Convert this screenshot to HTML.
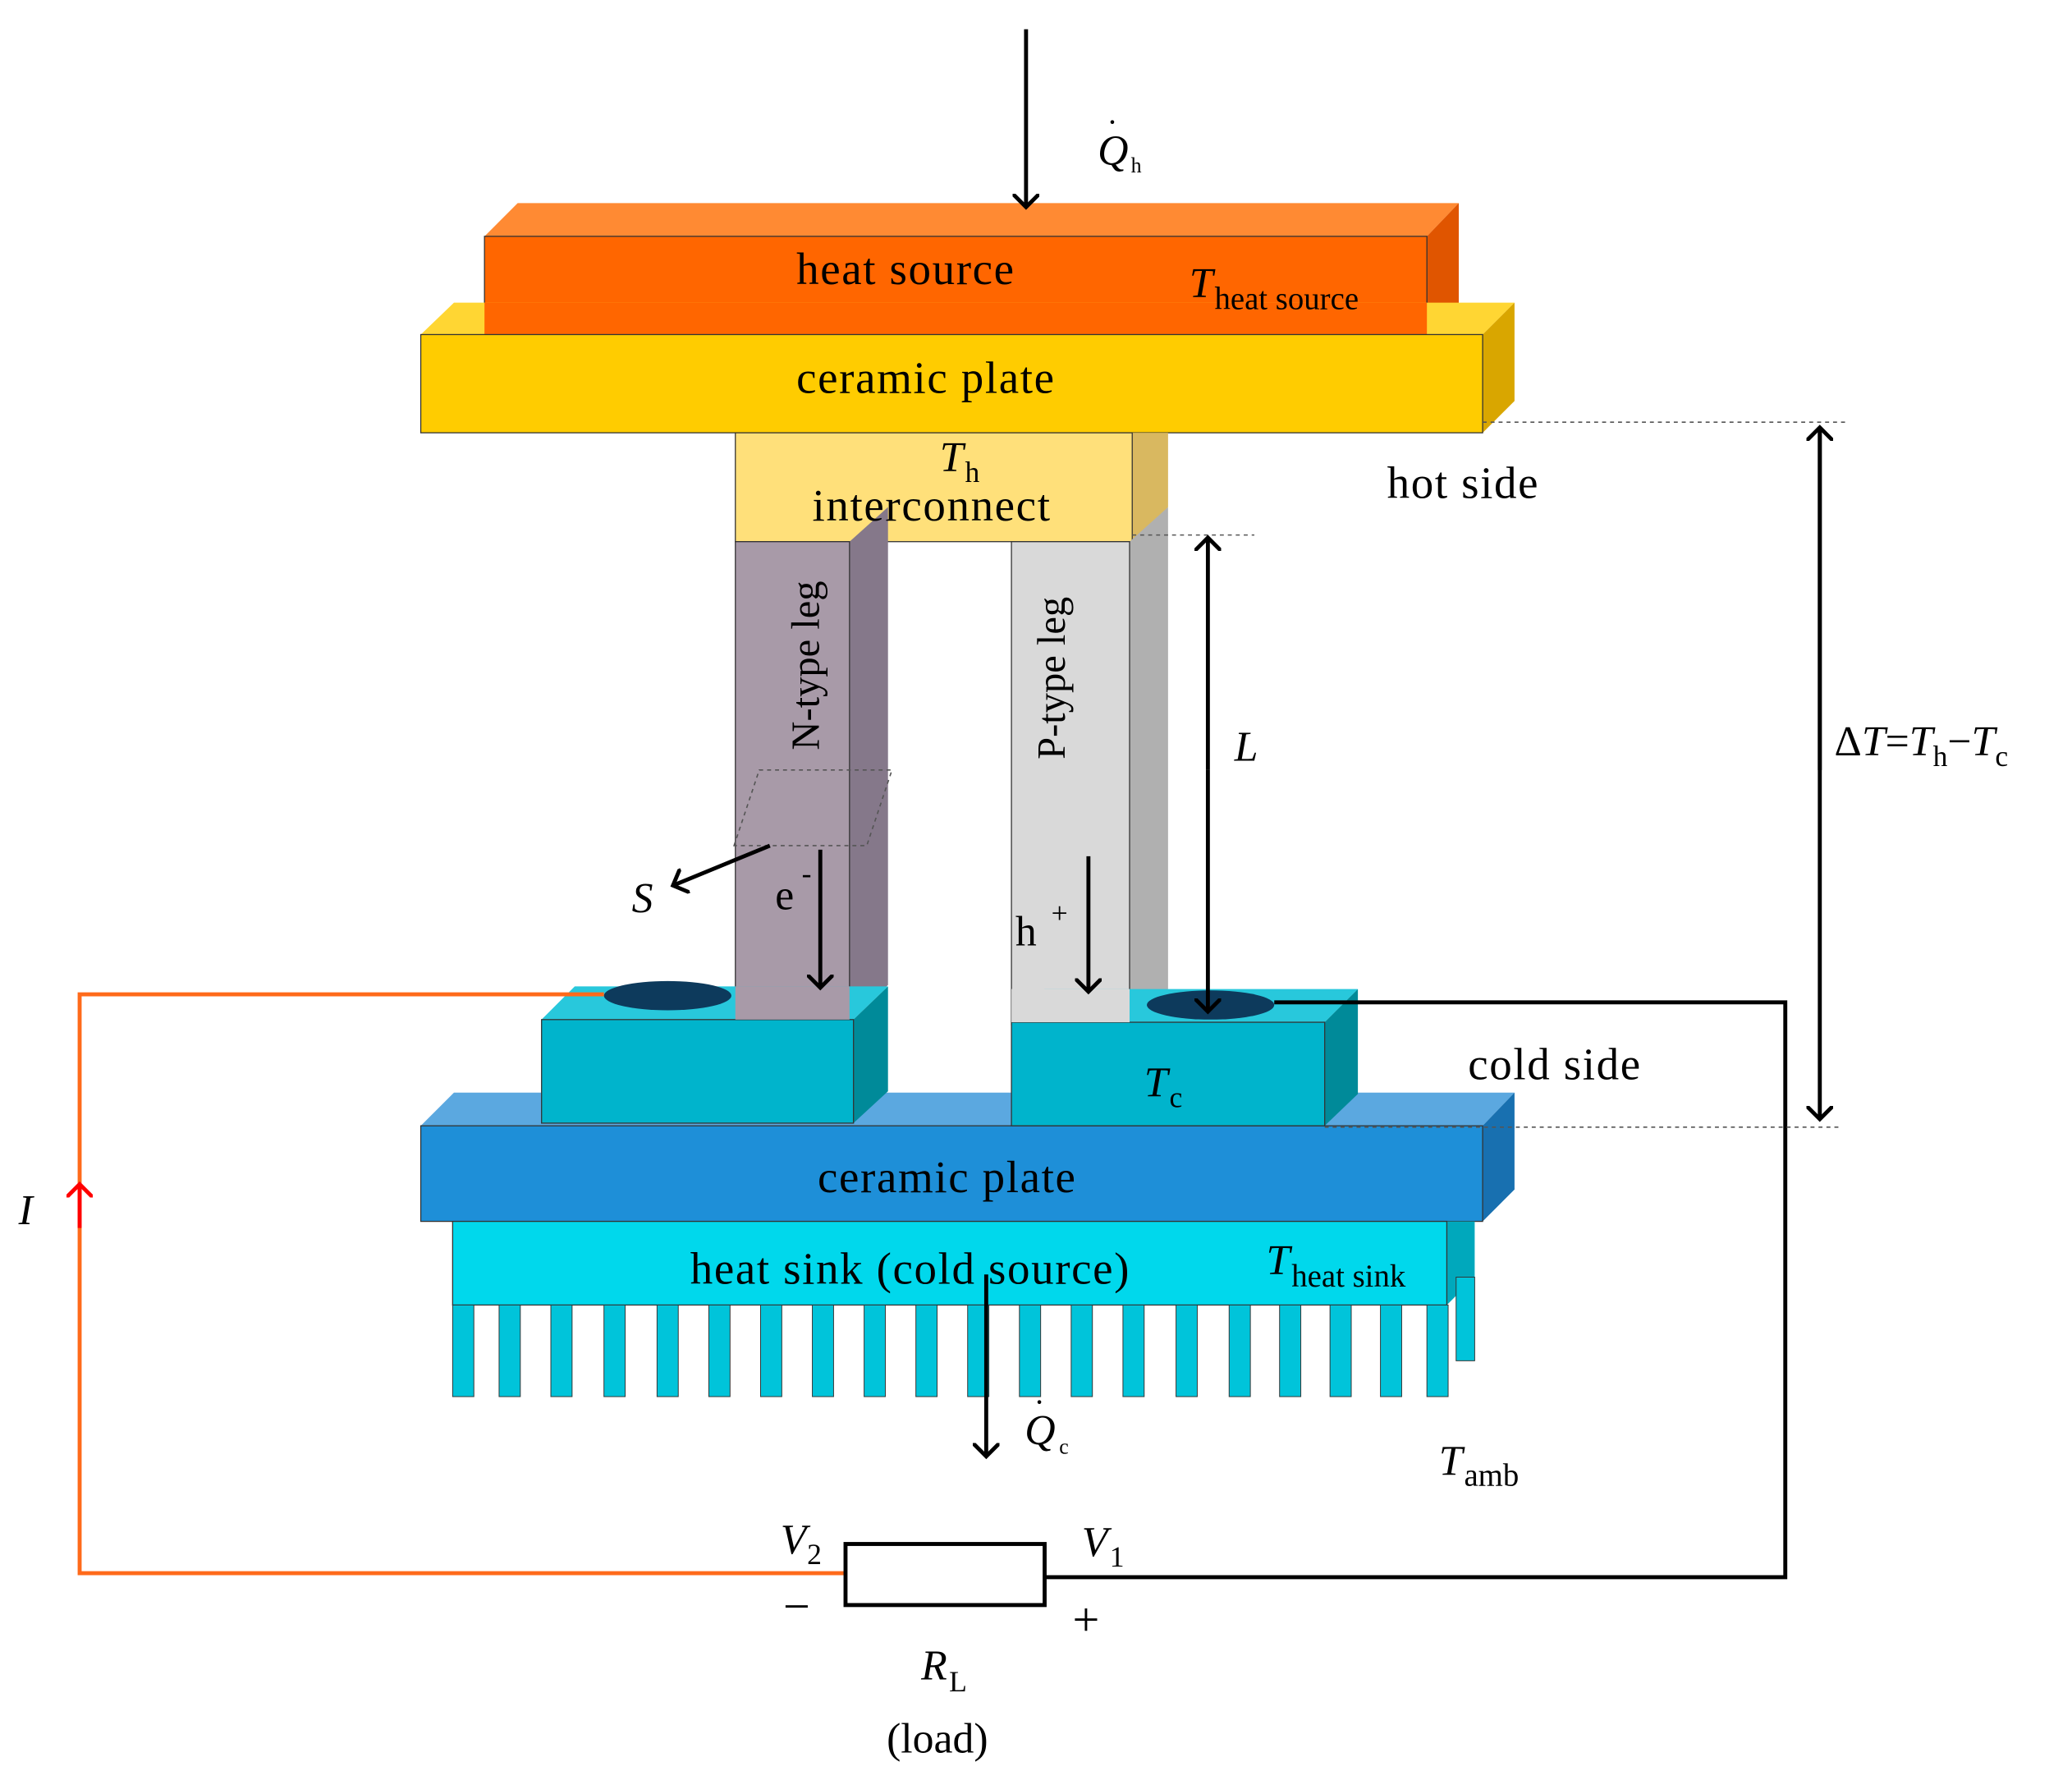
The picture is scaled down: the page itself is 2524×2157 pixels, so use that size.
<!DOCTYPE html>
<html><head><meta charset="utf-8"><style>html,body{margin:0;padding:0;background:#fff}svg{display:block}</style></head>
<body>
<svg width="2524" height="2157" viewBox="0 0 1561 1334" preserveAspectRatio="none" xmlns="http://www.w3.org/2000/svg" font-family="Liberation Serif, serif">
<defs>
<marker id="ah" markerWidth="20" markerHeight="20" refX="10" refY="10" orient="auto" markerUnits="userSpaceOnUse"><path d="M0,0 L10,10 L0,20" fill="none" stroke="#000" stroke-width="3"/></marker>
<marker id="ahr" markerWidth="20" markerHeight="20" refX="10" refY="10" orient="auto" markerUnits="userSpaceOnUse"><path d="M0,0 L10,10 L0,20" fill="none" stroke="#f00" stroke-width="3"/></marker>
</defs>
<!-- heat source -->
<polygon points="365,178 390,153 1099,153 1075,178" fill="#FF8A33"/>
<polygon points="1075,178 1099,153 1099,230 1075,252" fill="#E05500"/>
<rect x="365" y="178" width="710" height="74" fill="#FF6600" stroke="#333" stroke-width="0.8"/>
<!-- top ceramic -->
<polygon points="317,252 342,228 1141,228 1117,252" fill="#FFD633"/>
<rect x="365" y="228" width="710" height="24" fill="#FF6600"/>
<polygon points="1117,252 1141,228 1141,302 1117,326" fill="#D9A600"/>
<rect x="317" y="252" width="800" height="74" fill="#FFCC00" stroke="#333" stroke-width="0.8"/>
<!-- interconnect -->
<polygon points="853,326 880,326 880,382 853,408" fill="#D9B860"/>
<rect x="554" y="326" width="299" height="82" fill="#FFE07A" stroke="#333" stroke-width="0.8"/>
<!-- legs -->
<polygon points="640,408 669,382 669,742 640,768" fill="#85788A"/>
<rect x="554" y="408" width="86" height="360" fill="#A89AA8" stroke="#333" stroke-width="0.8"/>
<polygon points="851,408 880,382 880,745 851,772" fill="#B0B0B0"/>
<rect x="762" y="408" width="89" height="364" fill="#D9D9D9" stroke="#333" stroke-width="0.8"/>
<!-- bottom ceramic -->
<polygon points="317,848 342,823 1141,823 1117,848" fill="#5BA8E0"/>
<polygon points="1117,848 1141,823 1141,896 1117,920" fill="#1870B0"/>
<rect x="317" y="848" width="800" height="72" fill="#1E8FD8" stroke="#333" stroke-width="0.8"/>
<!-- pads -->
<polygon points="408,768 433,743 669,743 643,768" fill="#28C8DC"/>
<polygon points="643,768 669,743 669,822 643,846" fill="#008A99"/>
<rect x="408" y="768" width="235" height="78" fill="#00B4CC" stroke="#333" stroke-width="0.8"/>
<polygon points="762,770 787,745 1023,745 998,770" fill="#28C8DC"/>
<polygon points="998,770 1023,745 1023,824 998,848" fill="#008A99"/>
<rect x="762" y="770" width="236" height="78" fill="#00B4CC" stroke="#333" stroke-width="0.8"/>
<rect x="554" y="743" width="86" height="25" fill="#A89AA8"/>
<rect x="762" y="745" width="89" height="25" fill="#D9D9D9"/>
<ellipse cx="503" cy="750" rx="48" ry="11" fill="#0D3A5C"/>
<ellipse cx="912" cy="757" rx="48" ry="11" fill="#0D3A5C"/>
<!-- heat sink -->
<polygon points="1090,920 1111,920 1111,962 1090,983" fill="#00A8BC"/>
<rect x="341" y="920" width="749" height="63" fill="#00D8EC" stroke="#333" stroke-width="0.8"/>
<rect x="1097" y="962" width="14" height="63" fill="#00C4DA" stroke="#333" stroke-width="0.6"/>
<g fill="#00C4DA" stroke="#333" stroke-width="0.6">
<rect x="341" y="983" width="16" height="69"/><rect x="376" y="983" width="16" height="69"/><rect x="415" y="983" width="16" height="69"/><rect x="455" y="983" width="16" height="69"/><rect x="495" y="983" width="16" height="69"/><rect x="534" y="983" width="16" height="69"/><rect x="573" y="983" width="16" height="69"/><rect x="612" y="983" width="16" height="69"/><rect x="651" y="983" width="16" height="69"/><rect x="690" y="983" width="16" height="69"/><rect x="729" y="983" width="16" height="69"/><rect x="768" y="983" width="16" height="69"/><rect x="807" y="983" width="16" height="69"/><rect x="846" y="983" width="16" height="69"/><rect x="886" y="983" width="16" height="69"/><rect x="926" y="983" width="16" height="69"/><rect x="964" y="983" width="16" height="69"/><rect x="1002" y="983" width="16" height="69"/><rect x="1040" y="983" width="16" height="69"/><rect x="1075" y="983" width="16" height="69"/>
</g>
<!-- wires -->
<polyline points="455,749 60,749 60,1185 637,1185" fill="none" stroke="#FF6A1A" stroke-width="3"/>
<polyline points="960,755 1345,755 1345,1188 787,1188" fill="none" stroke="#000" stroke-width="3"/>
<rect x="637" y="1163" width="150" height="46" fill="#fff" stroke="#000" stroke-width="3"/>
<line x1="60" y1="925" x2="60" y2="892" stroke="#f00" stroke-width="3" marker-end="url(#ahr)"/>
<!-- dashed -->
<g stroke="#555" stroke-width="1" stroke-dasharray="3,3">
<line x1="1117" y1="318" x2="1390" y2="318"/><line x1="853" y1="403" x2="945" y2="403"/><line x1="998" y1="849" x2="1385" y2="849"/>
<polygon points="553,637 572,580 672,580 653,637" fill="none"/>
</g>
<!-- arrows -->
<g stroke="#000" stroke-width="3" fill="none">
<line x1="773" y1="22" x2="773" y2="156" marker-end="url(#ah)"/>
<line x1="1371" y1="322" x2="1371" y2="843" marker-end="url(#ah)" marker-start="url(#ah)" style="marker-start:none"/>
<line x1="1371" y1="580" x2="1371" y2="322" marker-end="url(#ah)"/>
<line x1="910" y1="580" x2="910" y2="405" marker-end="url(#ah)"/>
<line x1="910" y1="580" x2="910" y2="762" marker-end="url(#ah)"/>
<line x1="580" y1="637" x2="507" y2="667" marker-end="url(#ah)"/>
<line x1="618" y1="640" x2="618" y2="744" marker-end="url(#ah)"/>
<line x1="820" y1="645" x2="820" y2="747" marker-end="url(#ah)"/>
<line x1="743" y1="960" x2="743" y2="1097" marker-end="url(#ah)"/>
</g>
<!-- labels -->
<g font-size="34" fill="#000" letter-spacing="1">
<text x="600" y="214">heat source</text>
<text x="600" y="296">ceramic plate</text>
<text x="612" y="392">interconnect</text>
<text x="616" y="898">ceramic plate</text>
<text x="520" y="967">heat sink (cold source)</text>
<text x="1045" y="375">hot side</text>
<text x="1106" y="813">cold side</text>
</g>
<g font-size="32" fill="#000">
<text x="896" y="224" font-style="italic">T</text><text x="915" y="233" font-size="24">heat source</text>
<text x="954" y="960" font-style="italic">T</text><text x="973" y="969" font-size="24">heat sink</text>
<text x="708" y="355" font-style="italic">T</text><text x="727" y="363" font-size="22">h</text>
<text x="862" y="826" font-style="italic">T</text><text x="881" y="834" font-size="22">c</text>
<text x="1084" y="1111" font-style="italic">T</text><text x="1103" y="1119" font-size="24">amb</text>
<text x="930" y="573" font-style="italic">L</text>
<text x="476" y="687" font-style="italic">S</text>
<text x="584" y="685">e</text><text x="604" y="665" font-size="22">-</text>
<text x="765" y="712">h</text><text x="792" y="695" font-size="22">+</text>
<text x="14" y="922" font-style="italic">I</text>
<text x="1382" y="569">Δ<tspan font-style="italic">T</tspan>=<tspan font-style="italic">T</tspan><tspan font-size="22" dy="8">h</tspan><tspan dy="-8">−</tspan><tspan font-style="italic">T</tspan><tspan font-size="22" dy="8">c</tspan></text>
<text x="827" y="124" font-style="italic">Q</text><text x="834" y="100" font-size="24">·</text><text x="852" y="130" font-size="16">h</text>
<text x="772" y="1088" font-style="italic">Q</text><text x="779" y="1064" font-size="24">·</text><text x="798" y="1095" font-size="16">c</text>
<text x="588" y="1170" font-style="italic">V</text><text x="608" y="1178" font-size="22">2</text>
<text x="815" y="1172" font-style="italic">V</text><text x="836" y="1180" font-size="22">1</text>
<text x="590" y="1222" font-size="36">−</text>
<text x="808" y="1232" font-size="36">+</text>
<text x="694" y="1265" font-style="italic">R</text><text x="715" y="1274" font-size="22">L</text>
<text x="668" y="1320">(load)</text>
<text transform="translate(617,565) rotate(-90)" font-size="30">N-type leg</text>
<text transform="translate(802,572) rotate(-90)" font-size="30">P-type leg</text>
</g>
</svg>
</body></html>
